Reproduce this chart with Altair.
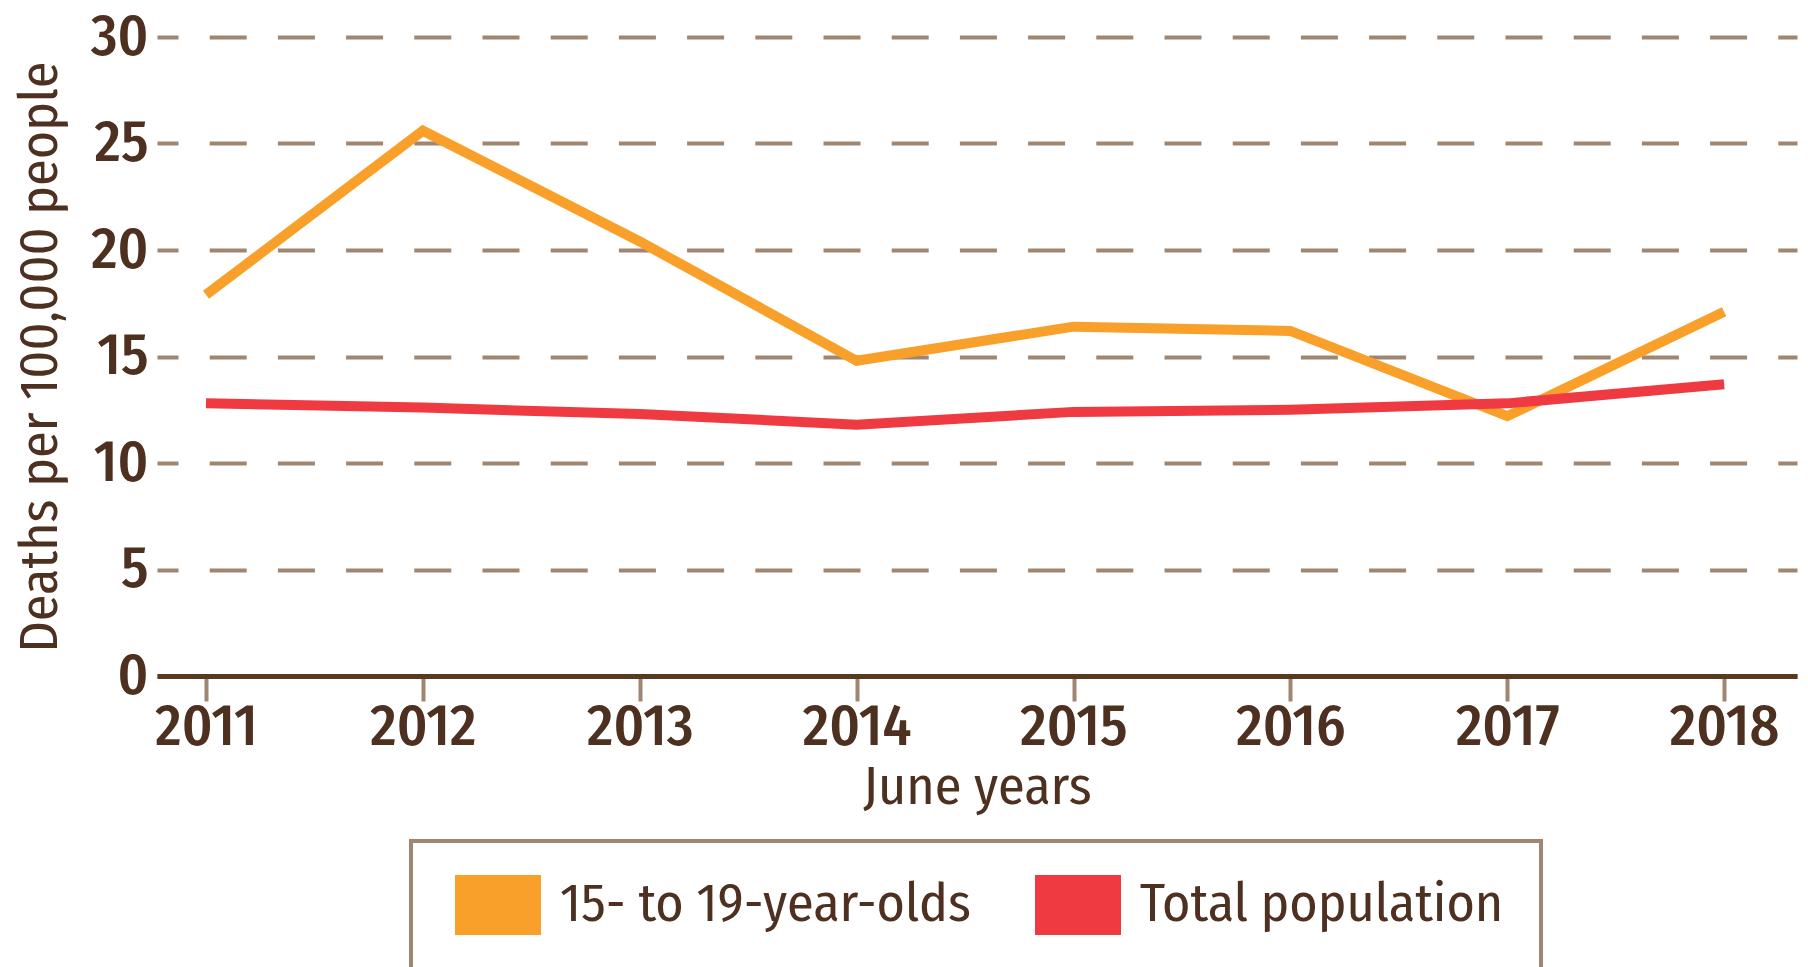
import altair as alt
import pandas as pd

years = [2011, 2012, 2013, 2014, 2015, 2016, 2017, 2018]
teen_rates = [17.9, 25.6, 20.4, 14.8, 16.4, 16.2, 12.2, 17.1]
total_rates = [12.8, 12.6, 12.3, 11.8, 12.4, 12.5, 12.8, 13.7]
series_names = ["15- to 19-year-olds", "Total population"]
series_colors = ["#F9A02B", "#EF3A42"]
y_ticks = [0, 5, 10, 15, 20, 25, 30]

rows = []
for name, vals in zip(series_names, [teen_rates, total_rates]):
    for yr, v in zip(years, vals):
        rows.append({"year": yr, "rate": v, "series": name})
df = pd.DataFrame(rows)

FONT = "Fira Sans Condensed, Roboto Condensed, sans-serif"
TEXT = "#4d3020"
TAN = "#a08570"
TICK_FS = 58
FS = 54
TICK_FW = 500
FW = 400

# legend swatch: stacked horizontal strokes forming a filled rectangle
# (units of sqrt(symbolSize)/2 = 15 px)
ys = [-1.733 + i * 3.466 / 9 for i in range(10)]
swatch = " ".join(f"M-1.333,{y:.3f}H4.4" for y in ys)

chart = alt.Chart(df).mark_line(strokeWidth=10, strokeJoin="miter", strokeCap="butt").encode(
    x=alt.X(
        "year:Q",
        scale=alt.Scale(domain=[2010.774, 2018.336], nice=False, zero=False),
        axis=alt.Axis(
            values=years, format="d", title="June years", grid=False,
            domainColor="#573a1f", domainWidth=5,
            tickColor=TAN, tickWidth=4, tickSize=25,
            labelPadding=-3, labelFontSize=TICK_FS, labelFont=FONT, labelColor=TEXT, labelFontWeight=TICK_FW,
            titleFont=FONT, titleFontSize=FS, titleColor=TEXT, titleFontWeight=FW,
            titleBaseline="alphabetic", titleY=127,
        ),
    ),
    y=alt.Y(
        "rate:Q",
        scale=alt.Scale(domain=[0, 30], nice=False),
        axis=alt.Axis(
            values=y_ticks, title="Deaths per 100,000 people",
            domain=False, ticks=False, tickSize=0,
            grid=True, gridColor=TAN, gridWidth=4, gridDash=[37, 31.2], gridDashOffset=16,
            labelPadding=9, labelFontSize=TICK_FS, labelFont=FONT, labelColor=TEXT, labelFontWeight=TICK_FW,
            titleFont=FONT, titleFontSize=FS, titleColor=TEXT, titleFontWeight=FW,
            titleX=-117, titleBaseline="middle",
        ),
    ),
    color=alt.Color(
        "series:N",
        scale=alt.Scale(domain=series_names, range=series_colors),
        legend=alt.Legend(
            title=None, orient="none", legendX=254, legendY=804, direction="horizontal",
            symbolType=swatch, symbolSize=900, symbolStrokeWidth=8,
            labelFont=FONT, labelFontSize=FS, labelColor=TEXT, labelLimit=0, labelFontWeight=FW,
            padding=37, strokeColor=TAN, fillColor="white",
            columnPadding=48, labelOffset=58,
        ),
    ),
).properties(
    width=1640, height=639,
    autosize=alt.AutoSizeParams(type="none"),
    padding={"left": 149, "top": 29, "right": 3, "bottom": 300},
).configure_view(stroke=None).configure_legend(strokeWidth=4)

chart.save("out.html", embed_options={"renderer": "svg", "actions": False})
